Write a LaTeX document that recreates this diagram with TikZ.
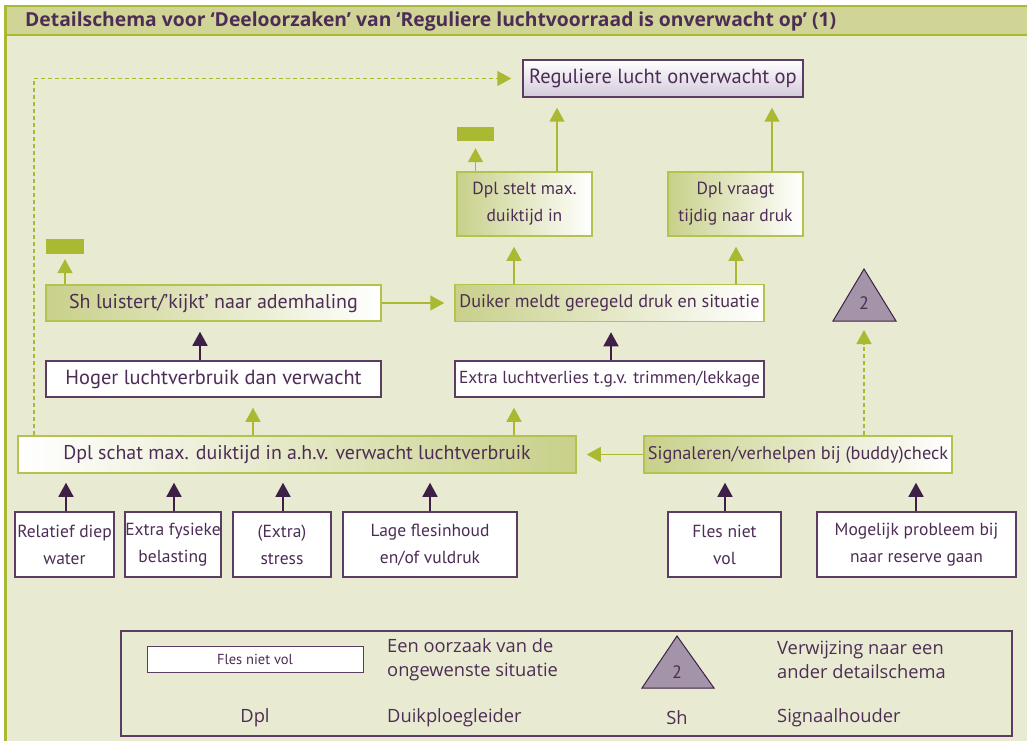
\documentclass[tikz,border=0pt]{standalone}
\usepackage{fontspec}
\setmainfont{PT Sans}
\newfontfamily\osans{Open Sans}
\usetikzlibrary{arrows.meta,calc}
\definecolor{bg}{HTML}{E8EBD1}
\definecolor{hdr}{HTML}{D0D597}
\definecolor{gline}{HTML}{AAB931}
\definecolor{gbord}{HTML}{B5C24E}
\definecolor{gfill}{HTML}{C8D08A}
\definecolor{ptxt}{HTML}{4D2D55}
\definecolor{pline}{HTML}{5B3C63}
\definecolor{pdark}{HTML}{3E1F48}
\definecolor{lav}{HTML}{A394A9}
\definecolor{lavlight}{HTML}{D3CADA}
\newcommand\fsz[1]{\fontsize{#1}{27}\selectfont}
\tikzset{
  txt/.style={text=ptxt, font=\fsz{17.5}, align=center, inner sep=0pt},
  gbox/.style={txt, draw=gbord, line width=1.5pt},
  gboxl/.style={gbox, left color=gfill, right color=white},
  gboxr/.style={gbox, left color=white, right color=gfill},
  pbox/.style={txt, draw=pline, line width=1.5pt, fill=white},
  grect/.style={fill=gline, inner sep=0pt},
  garrow/.style={draw=gline, line width=1.5pt, -{Triangle[width=15pt,length=14pt]}, shorten >=10pt},
  parrow/.style={draw=pdark, line width=1.5pt, -{Triangle[width=15pt,length=14pt]}, shorten >=10pt},
  gdash/.style={garrow, dash pattern=on 4pt off 3pt},
  ltxt/.style={text=ptxt, font=\osans\fontsize{18.3}{24}\selectfont, align=left, inner sep=0pt},
}
\begin{document}
\begin{tikzpicture}[x=1pt,y=-1pt]
\useasboundingbox (0,0) rectangle (1027,741);
\fill[white] (0,0) rectangle (1027,741);
\fill[bg] (5,6) rectangle (1027,741);
\fill[hdr] (5,6) rectangle (1027,35);
\draw[gline,line width=2pt] (5,6) -- (1027,6);
\draw[gline,line width=2pt] (5,35) -- (1027,35);
\draw[gline,line width=3pt] (5,5) -- (5,741);
\node[anchor=base west, text=ptxt, font=\osans\bfseries\fontsize{19.3}{20}\selectfont, inner sep=0pt] (title) at (25,27)
  {Detailschema voor ‘Deeloorzaken’ van ‘Reguliere luchtvoorraad is onverwacht op’ (1)};

% nodes
\node[txt, font=\fsz{20.5}, draw=pline, line width=1.5pt, top color=white, bottom color=lavlight, minimum width=280pt, minimum height=37pt] (top) at (663,78.5) {Reguliere lucht onverwacht op};
\node[gboxl, minimum width=135pt, minimum height=64pt] (stelt) at (524.5,204) {Dpl stelt max.\\duiktijd in};
\node[gboxl, minimum width=135pt, minimum height=64pt] (vraagt) at (735.5,204) {Dpl vraagt\\tijdig naar druk};
\node[grect, minimum width=37pt, minimum height=14pt] (g1) at (475.5,134) {};
\node[grect, minimum width=38pt, minimum height=15pt] (g2) at (65,246.5) {};
\node[gboxl, font=\fsz{20}, minimum width=335pt, minimum height=36pt] (sh) at (213.5,303) {Sh luistert/’kijkt’ naar ademhaling};
\node[gboxl, font=\fsz{18.2}, minimum width=309pt, minimum height=37pt] (duiker) at (609.5,303) {Duiker meldt geregeld druk en situatie};
\node[pbox, font=\fsz{20.4}, minimum width=335pt, minimum height=36pt] (hoger) at (213.5,379) {Hoger luchtverbruik dan verwacht};
\node[pbox, font=\fsz{17.4}, minimum width=309pt, minimum height=36pt] (extra) at (609.5,379) {Extra luchtverlies t.g.v. trimmen/lekkage};
\node[gboxr, font=\fsz{19.9}, minimum width=558pt, minimum height=37pt] (schat) at (297,454.5) {Dpl schat max. duiktijd in a.h.v. verwacht luchtverbruik};
\node[gboxl, font=\fsz{18.3}, minimum width=308pt, minimum height=37pt] (sign) at (798,454.5) {Signaleren/verhelpen bij (buddy)check};
\draw[draw=pdark, line width=1pt, fill=lav] (864,269) -- (896,321) -- (833,321) -- cycle;
\node[txt, font=\fsz{18}] (tri) at (864,303) {2};
\coordinate (trib) at (864,321);

\node[pbox, minimum width=99pt, minimum height=65pt] (b1) at (64.5,544.5) {Relatief diep\\water};
\node[pbox, minimum width=96pt, minimum height=65pt] (b2) at (173,544.5) {Extra fysieke\\belasting};
\node[pbox, minimum width=98pt, minimum height=65pt] (b3) at (282,544.5) {(Extra)\\stress};
\node[pbox, minimum width=174pt, minimum height=65pt] (b4) at (430,544.5) {Lage flesinhoud\\en/of vuldruk};
\node[pbox, minimum width=113pt, minimum height=65pt] (b5) at (724.5,544.5) {Fles niet\\vol};
\node[pbox, minimum width=199pt, minimum height=65pt] (b6) at (916.5,544.5) {Mogelijk probleem bij\\naar reserve gaan};

% connectors
\draw[garrow] (stelt.north -| 557,0) -- (top.south -| 557,0);
\draw[garrow] (vraagt.north -| 772,0) -- (top.south -| 772,0);
\draw[garrow, shorten >=7pt] (stelt.north -| g1) -- (g1.south);
\draw[garrow] (duiker.north -| 514,0) -- (stelt.south -| 514,0);
\draw[garrow] (duiker.north -| 736,0) -- (vraagt.south -| 736,0);
\draw[garrow, shorten >=5pt] (sh.north -| g2) -- (g2.south);
\draw[garrow] (sh.east) -- (duiker.west);
\draw[parrow] (hoger.north -| 200,0) -- (sh.south -| 200,0);
\draw[parrow] (extra.north -| 611,0) -- (duiker.south -| 611,0);
\draw[garrow] (schat.north -| 253,0) -- (hoger.south -| 253,0);
\draw[garrow] (schat.north -| 514,0) -- (extra.south -| 514,0);
\draw[garrow] (sign.west) -- (schat.east);
\draw[gdash, shorten >=9pt] (sign.north -| trib) -- (trib);
\draw[gdash, shorten >=11pt] (schat.north -| 34,0) |- (top.west);
\draw[parrow, shorten >=9pt] (b1.north -| 66,0) -- (schat.south -| 66,0);
\draw[parrow, shorten >=9pt] (b2.north -| 174,0) -- (schat.south -| 174,0);
\draw[parrow, shorten >=9pt] (b3.north -| 283,0) -- (schat.south -| 283,0);
\draw[parrow, shorten >=9pt] (b4.north -| 430,0) -- (schat.south -| 430,0);
\draw[parrow, shorten >=9pt] (b5.north -| 725,0) -- (sign.south -| 725,0);
\draw[parrow, shorten >=9pt] (b6.north -| 916,0) -- (sign.south -| 916,0);

% legend
\node[draw=pline, line width=1.5pt, minimum width=891pt, minimum height=105pt, inner sep=0pt] (legend) at (566.5,683.5) {};
\node[draw=pline, line width=1pt, fill=white, text=ptxt, font=\fontsize{14.5}{14.5}\selectfont, minimum width=216pt, minimum height=26pt, inner sep=0pt] (lbox) at (255,659) {Fles niet vol};
\node[ltxt, anchor=west] (l1) at (387,660) {Een oorzaak van de\\ongewenste situatie};
\draw[draw=pdark, line width=1pt, fill=lav] (677,636) -- (714,688) -- (642,688) -- cycle;
\node[txt, font=\fsz{18}] (l2n) at (677,672) {2};
\node[ltxt, anchor=west] (l2) at (777,660) {Verwijzing naar een\\ander detailschema};
\node[ltxt] (l3a) at (255,718) {Dpl};
\node[ltxt, anchor=west] (l3) at (387,718) {Duikploegleider};
\node[ltxt] (l4a) at (677,718) {Sh};
\node[ltxt, anchor=west] (l4) at (777,718) {Signaalhouder};
\end{tikzpicture}
\end{document}
